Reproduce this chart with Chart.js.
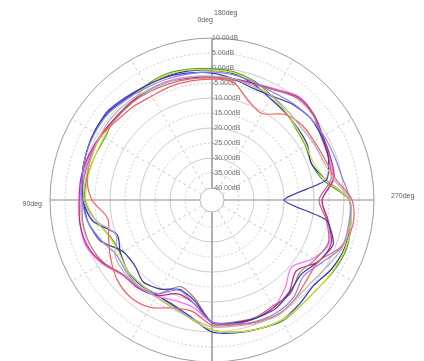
<!DOCTYPE html>
<html>
<head>
<meta charset="utf-8">
<script src="https://cdn.jsdelivr.net/npm/chart.js@4/dist/chart.umd.min.js"></script>
<style>
  html, body { margin: 0; padding: 0; background: #fff; overflow: hidden; }
  #wrap { width: 424px; height: 361px; overflow: hidden; }
</style>
</head>
<body>
<div id="wrap"><canvas id="polar" width="424" height="400"></canvas></div>
<script>
// angle categories, clockwise from the top (the plot counts degrees the other way)
const angles = ['0', '350', '340', '330', '320', '310', '300', '290', '280', '270', '260', '250',
  '240', '230', '220', '210', '200', '190', '180', '170', '160', '150', '140', '130',
  '120', '110', '100', '90', '80', '70', '60', '50', '40', '30', '20', '10'];

// radial ticks in dB
const tickValues = [-40, -35, -30, -25, -20, -15, -10, -5, 0, 5, 10];

// direction labels
const topLabels = ['180deg', '0deg'];
const leftLabel = '90deg';
const rightLabel = '270deg';

// gain per angle, dB
const green = [-0.3, -0.7, -2, -4, -5.7, -7.3, -8, -8.7, -6.3, 1.7, 3, 3.7, 3, 2, 2, 2.7, 1.7, 0.7,
  -0.7, -3.7, -6.3, -7.3, -7.3, -7.3, -8.7, -8, -4.7, -1.7, -1.7, -2.3, -2.7, -1.7, -2, 0, 0.7, 0.3];
const yellow = [-0.7, -1, -2.3, -4.3, -5.7, -7, -7.7, -8, -5.3, 1.7, 3, 3.3, 2.7, 2, 2, 2.3, 1.7, 0.7,
  -0.7, -3.7, -6, -7, -7.3, -7.3, -8.3, -7.7, -4.7, -2, -2, -2.3, -2.3, -1.7, -1.7, -0.3, 0.3, 0];
const blue = [-0.8, -1.3, -3, -5, -6, -6.7, -7.3, -8.7, -5.3, 1.7, 2.7, 3, 2, 0.3, 1.3, 2.3, 1.7, 1,
  0, -4.3, -6.7, -7.3, -7, -7.3, -8.7, -10.3, -3.7, -1, 0, 0.7, 1.3, 1.3, 0.3, 0, 0, -0.3];
const navy = [-1.7, -3, -4.3, -4, -2.3, -1.3, -1.7, -2.7, -5.3, -20, -5.3, -1, -3, -5.3, -3.7, -2, -2, -2.3,
  -3, -10, -12.3, -9.7, -8.3, -10.3, -9.7, -4.3, -2, -1, 0, 0.7, 1.3, 1.7, 0.7, 0, -0.3, -1];
const lightBlue = [-1.3, -1.7, -2.3, -2.7, -2, -1.3, -1, -0.7, 0, 2, 2.3, 2, -2, -4.3, -1.7, -0.7, -1, -2,
  -3.3, -9, -12, -8, -6.3, -6.7, -7.3, -4.7, -2, -0.7, 0, 0.7, 1, 1, 0, -0.7, -1, -1.3];
const red = [-3.7, -4, -8.7, -10.7, -6.7, -5, -4.7, -4, -2.3, 2.7, 3.7, 1.7, -3, -2.7, -1, 0, -0.7, -1.7,
  -2.3, -6.3, -5.7, -2.7, -1.7, -2.7, -5, -7.3, -8.7, -4, -1.7, -1.3, -1.3, -2.7, -3.3, -4, -3.7, -3.7];
const pink = [-3, -3, -2.7, -1.3, 1, 0.3, -1.7, -2.3, -3, -7.3, -5, -2.3, -5, -9.3, -6, -2.7, -2, -2,
  -3.3, -7.7, -8.3, -7, -5.7, -5, -1.7, 0.7, 0.7, 0, -0.3, -0.7, -1.3, -2, -1.7, -1.7, -1.7, -2.3];
const magenta = [-3, -3, -2.7, -1.7, 0.7, 0.3, -1.3, -2, -2.7, -7.3, -4.7, -1.7, -3, -7.3, -4, -2.7, -2, -2.3,
  -3.3, -9, -10.7, -7.3, -5.7, -5.3, -2, 0.3, 0.7, 0.3, 0.3, -0.3, -1, -1.7, -1.7, -1.7, -2, -2.7];
const brown = [-3.3, -3.3, -3, -1.7, 0.3, 0, -2, -2.7, -3.7, -8.3, -5.3, -2.7, -4.3, -6, -3.3, -3.3, -2.3, -2.7,
  -3.3, -10.7, -13.3, -8, -6, -5.3, -2.3, -0.7, -0.3, -0.7, -0.7, -1, -1.3, -2, -2, -2.3, -2.7, -3];
const gray = [-2.7, -3, -3.7, -4, -5, -5.7, -5.3, -4.7, -3, 2, 2.7, 2.3, 0.3, -1, -0.7, 0.3, -0.3, -1.3,
  -1.7, -4, -5.7, -6.7, -6.3, -6, -6.7, -10, -4.7, -1.3, -1.3, -1.3, -1, -0.7, -1, -1.7, -2, -2.3];

const series = [
  { name: 'gray', data: gray, color: '#b4b4b4' },
  { name: 'red', data: red, color: '#ff5a5a' },
  { name: 'lightBlue', data: lightBlue, color: '#8484ee' },
  { name: 'navy', data: navy, color: '#3a3aa0', tension: 0.2 },
  { name: 'brown', data: brown, color: '#b07474' },
  { name: 'magenta', data: magenta, color: '#c8208c' },
  { name: 'pink', data: pink, color: '#ff6cff' },
  { name: 'yellow', data: yellow, color: '#e2e620' },
  { name: 'blue', data: blue, color: '#2a2ad8' },
  { name: 'green', data: green, color: '#3ea03e' },
];

// hole in the middle plus the text on the axes
const polarText = {
  id: 'polarText',
  beforeDatasetsDraw(chart) {
    const r = chart.scales.r;
    const ctx = chart.ctx;
    const hole = r.getDistanceFromCenterForValue(tickValues[0]);
    ctx.save();
    ctx.beginPath();
    ctx.arc(r.xCenter, r.yCenter, hole, 0, Math.PI * 2);
    ctx.fillStyle = '#fff';
    ctx.fill();
    ctx.strokeStyle = '#bdbdbd';
    ctx.lineWidth = 1;
    ctx.stroke();

    ctx.font = '7px "Liberation Sans", Arial, sans-serif';
    ctx.textBaseline = 'middle';
    ctx.fillStyle = '#6e6e6e';
    ctx.textAlign = 'left';
    r.ticks.forEach(t => {
      ctx.fillText(t.label, r.xCenter, r.yCenter - r.getDistanceFromCenterForValue(t.value));
    });

    ctx.fillStyle = '#5a5a5a';
    const top = r.getPointPosition(0, r.drawingArea);
    ctx.fillText(topLabels[0], top.x + 2, top.y - 25);
    ctx.textAlign = 'right';
    ctx.fillText(topLabels[1], top.x + 1, top.y - 18);
    const left = r.getPointPosition(27, r.drawingArea);
    ctx.fillText(leftLabel, left.x - 8, left.y + 4);
    const right = r.getPointPosition(9, r.drawingArea);
    ctx.textAlign = 'left';
    ctx.fillText(rightLabel, right.x + 17, right.y - 4);
    ctx.restore();
  }
};

const ctx = document.getElementById('polar').getContext('2d');
new Chart(ctx, {
  type: 'radar',
  data: {
    labels: angles,
    datasets: series.map(s => ({
      label: s.name,
      data: s.data,
      borderColor: s.color,
      borderWidth: 1.2,
      pointRadius: 0,
      fill: false,
      tension: s.tension || 0.3,
    })),
  },
  options: {
    responsive: false,
    animation: false,
    events: [],
    layout: { padding: { left: 50, right: 50, top: 38, bottom: 38 } },
    plugins: { legend: { display: false }, tooltip: { enabled: false } },
    scales: {
      r: {
        min: -44,
        max: 10,
        afterBuildTicks: axis => {
          axis.ticks = tickValues.map(v => ({ value: v }));
        },
        ticks: {
          display: false,
          callback: v => v.toFixed(2) + 'dB',
        },
        pointLabels: { display: false },
        grid: {
          circular: true,
          color: c => (c.tick && c.tick.value === 10 ? '#9c9c9c' : '#cccccc'),
          lineWidth: 1,
        },
        border: {
          dash: c => (c.tick && c.tick.value % 10 !== 0 ? [2, 2] : []),
        },
        angleLines: {
          color: c => (c.index % 9 === 0 ? '#b0b0b0' : c.index % 3 === 0 ? '#cccccc' : 'transparent'),
          lineWidth: c => (c.index % 18 === 0 ? 2 : c.index % 9 === 0 ? 1.5 : c.index % 3 === 0 ? 1 : 0),
          borderDash: c => (c.index % 9 === 0 ? [] : [3, 3]),
        },
      },
    },
  },
  plugins: [polarText],
});
</script>
</body>
</html>
